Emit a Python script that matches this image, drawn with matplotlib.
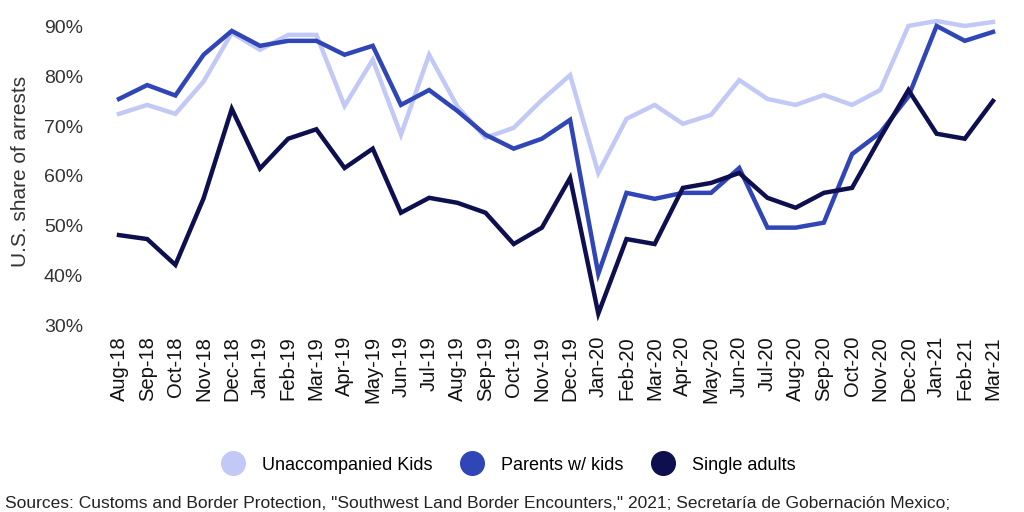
import matplotlib.pyplot as plt
from matplotlib.lines import Line2D

months = ["Aug-18", "Sep-18", "Oct-18", "Nov-18", "Dec-18", "Jan-19", "Feb-19", "Mar-19",
          "Apr-19", "May-19", "Jun-19", "Jul-19", "Aug-19", "Sep-19", "Oct-19", "Nov-19",
          "Dec-19", "Jan-20", "Feb-20", "Mar-20", "Apr-20", "May-20", "Jun-20", "Jul-20",
          "Aug-20", "Sep-20", "Oct-20", "Nov-20", "Dec-20", "Jan-21", "Feb-21", "Mar-21"]

unaccompanied = [72.5, 74.3, 72.5, 79, 88.8, 85.4, 88.4, 88.4, 74.1, 83.4, 68.3, 84.4,
                 74, 67.7, 69.7, 75.3, 80.3, 60.6, 71.5, 74.3, 70.5, 72.3, 79.3, 75.5,
                 74.3, 76.3, 74.3, 77.3, 90.2, 91.2, 90.2, 91]
parents = [75.5, 78.3, 76.2, 84.4, 89.2, 86.2, 87.2, 87.2, 84.4, 86.2, 74.3, 77.3,
           73.1, 68.3, 65.5, 67.5, 71.3, 40.3, 56.6, 55.4, 56.6, 56.6, 61.6, 49.6,
           49.6, 50.6, 64.4, 68.7, 76, 90.2, 87.2, 89]
single = [48.1, 47.3, 42.1, 55.5, 73.5, 61.5, 67.5, 69.4, 61.6, 65.5, 52.6, 55.6,
          54.6, 52.6, 46.3, 49.6, 59.6, 32.3, 47.3, 46.3, 57.6, 58.6, 60.6, 55.6,
          53.6, 56.6, 57.6, 67.7, 77.3, 68.5, 67.5, 75.1]

names = ["Unaccompanied Kids", "Parents w/ kids", "Single adults"]
colors = ["#c2c9f6", "#3146b6", "#0e0f4f"]

tick_font = ["Liberation Sans", "DejaVu Sans"]
text_font = ["Liberation Sans Narrow", "Liberation Sans", "DejaVu Sans"]

fig = plt.figure(figsize=(10.24, 5.12), dpi=100)
ax = fig.add_axes([119 / 1024, 1 - 325 / 512, (993 - 119) / 1024, (325 - 17) / 512])

x = list(range(len(months)))
for vals, c in zip([unaccompanied, parents, single], colors):
    ax.plot(x, vals, color=c, lw=3.2, clip_on=False, solid_joinstyle="miter")

ax.set_xlim(0, len(months) - 1)
ax.set_ylim(30, 92)
ax.set_yticks([30, 40, 50, 60, 70, 80, 90])
ax.set_yticklabels([f"{v}%" for v in [30, 40, 50, 60, 70, 80, 90]],
                   family=tick_font, fontsize=14, color="#333333")
ax.set_xticks(x)
ax.set_xticklabels(months, rotation=90, family=tick_font, fontsize=14.5, color="#111111")
ax.tick_params(length=0, pad=8)
ax.tick_params(axis="y", pad=26)
for s in ax.spines.values():
    s.set_visible(False)
ax.set_ylabel("U.S. share of arrests", family=tick_font, fontsize=15, color="#333333", labelpad=10)

handles = [Line2D([], [], ls="none", marker="o", ms=17, color=c) for c in colors]
fig.legend(handles, names, loc="center", bbox_to_anchor=(505 / 1024, 1 - 465 / 512),
           ncol=3, frameon=False, prop={"family": text_font, "size": 13},
           handletextpad=0.6, columnspacing=1.2)

fig.text(5 / 1024, 9 / 512,
         'Sources: Customs and Border Protection, "Southwest Land Border Encounters," 2021; '
         'Secretaría de Gobernación Mexico;',
         family=text_font, fontsize=12.5, color="#222222", va="center")

fig.savefig("out.png", dpi=100)
